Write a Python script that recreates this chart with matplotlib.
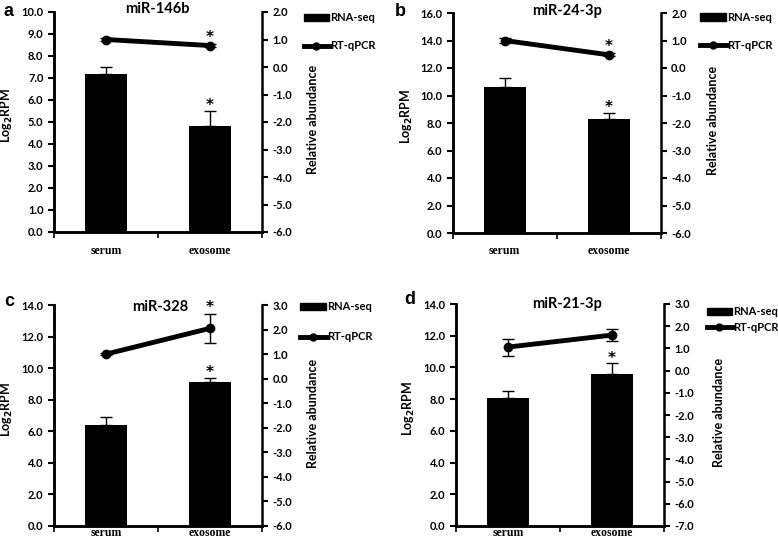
import matplotlib
matplotlib.use("Agg")
import matplotlib.pyplot as plt
from matplotlib.ticker import FormatStrFormatter, FixedLocator
from matplotlib.lines import Line2D
from matplotlib.patches import Patch

categories = ["serum", "exosome"]
panel_letters = ["a", "b", "c", "d"]
titles = ["miR-146b", "miR-24-3p", "miR-328", "miR-21-3p"]

rnaseq_vals = [[7.2, 4.8], [10.6, 8.3], [6.4, 9.1], [8.1, 9.6]]
rnaseq_err = [[0.3, 0.7], [0.65, 0.45], [0.5, 0.3], [0.4, 0.65]]
qpcr_vals = [[1.0, 0.78], [1.0, 0.48], [1.0, 2.05], [1.06, 1.6]]
qpcr_err = [[0.05, 0.06], [0.1, 0.05], [0.05, 0.58], [0.38, 0.27]]
bar_star = [[False, True], [False, True], [False, True], [False, True]]
line_star = [[False, True], [False, True], [False, True], [False, False]]

left_lims = [(0, 10), (0, 16), (0, 14), (0, 14)]
left_steps = [1, 2, 2, 2]
right_lims = [(-6, 2), (-6, 2), (-6, 3), (-7, 3)]

# layout (figure fractions)
boxes = [
    (54/778, 1-232/545, 208/778, 220/545),
    (452.7/778, 1-233/545, 208/778, 220/545),
    (54/778, 1-526/545, 208/778, 221/545),
    (456/778, 1-526/545, 208/778, 222/545),
]
letter_pos = [(4, 12), (395, 11), (4, 301), (404, 300)]
title_pos = [(0.495, 1.014), (0.55, 1.01), (0.51, 0.99), (0.534, 1.0)]
legend_pos = [(1.20, 1.0), (1.19, 1.005), (1.185, 1.018), (1.205, 0.99)]
legend_spacing = [1.55, 1.55, 1.75, 0.45]
llabel_x = [-0.1875, -0.181, -0.1875, -0.1875]
rlabel_x = [1.216, 1.223, 1.216, 1.236]
xlabel_pad = [9, 9, 1, 1]

SANS = "Lato"
SERIF = "Liberation Serif"

fig = plt.figure(figsize=(7.78, 5.45), dpi=100)

for i in range(4):
    ax = fig.add_axes(boxes[i])
    ax2 = ax.twinx()
    x = [0, 1]
    ax.bar(x, rnaseq_vals[i], width=0.4, color="black", zorder=2)
    ax.errorbar(x, rnaseq_vals[i], yerr=[[0, 0], rnaseq_err[i]], fmt="none",
                ecolor="black", elinewidth=1.0, capsize=4.5, capthick=1.0, zorder=3)
    ax2.errorbar(x, qpcr_vals[i], yerr=qpcr_err[i], fmt="none", ecolor="black",
                 elinewidth=1.0, capsize=4.5, capthick=1.0, zorder=3)
    ax2.plot(x, qpcr_vals[i], color="black", lw=3.5, marker="o", ms=6, zorder=4)

    for j in range(2):
        if bar_star[i][j]:
            ax.annotate("*", (x[j], rnaseq_vals[i][j] + rnaseq_err[i][j]),
                        xytext=(0, 0.5), textcoords="offset points", ha="center",
                        va="baseline", fontsize=11, fontweight="bold",
                        family="DejaVu Sans")
        if line_star[i][j]:
            ax2.annotate("*", (x[j], qpcr_vals[i][j] + qpcr_err[i][j]),
                         xytext=(0, 1.5), textcoords="offset points", ha="center",
                         va="baseline", fontsize=11, fontweight="bold",
                         family="DejaVu Sans")

    ax.set_xlim(-0.5, 1.5)
    ax.set_ylim(*left_lims[i])
    ax2.set_ylim(*right_lims[i])
    lo, hi = left_lims[i]
    ax.set_yticks([lo + k * left_steps[i] for k in range(int((hi - lo) / left_steps[i]) + 1)])
    rlo, rhi = right_lims[i]
    ax2.set_yticks(list(range(rlo, rhi + 1)))
    ax.yaxis.set_major_formatter(FormatStrFormatter("%.1f"))
    ax2.yaxis.set_major_formatter(FormatStrFormatter("%.1f"))

    ax.set_xticks(x)
    ax.set_xticklabels(categories, family=SERIF, fontweight="bold", fontsize=8.5)
    ax.xaxis.set_minor_locator(FixedLocator([-0.5, 0.5, 1.5]))
    ax.tick_params(axis="x", which="major", length=0, pad=xlabel_pad[i])
    ax.tick_params(axis="x", which="minor", length=4, width=1.2, direction="out")
    ax.tick_params(axis="y", length=4.5, width=1.5, direction="out", pad=3)
    ax2.tick_params(axis="y", length=4.5, width=1.5, direction="out", pad=3)
    for lab in ax.get_yticklabels() + ax2.get_yticklabels():
        lab.set_fontfamily(SANS)
        lab.set_fontweight("bold")
        lab.set_fontsize(8)

    for a_ in (ax, ax2):
        a_.spines["top"].set_visible(False)
        for s in ("left", "right", "bottom"):
            a_.spines[s].set_linewidth(1.8)
    ax.spines["right"].set_visible(False)

    ax.set_ylabel("Log$_\\mathbf{2}$RPM", family=SANS, fontweight="bold", fontsize=9)
    ax.yaxis.set_label_coords(llabel_x[i], 0.53)
    ax2.set_ylabel("Relative abundance", family=SANS, fontweight="bold", fontsize=9)
    ax2.yaxis.set_label_coords(rlabel_x[i], 0.51)

    ax.text(title_pos[i][0], title_pos[i][1], titles[i], transform=ax.transAxes,
            ha="center", va="center", family=SANS, fontweight="bold", fontsize=10.5)

    handles = [Patch(facecolor="black", edgecolor="black"),
               Line2D([0], [0], color="black", lw=3.5, marker="o", ms=5)]
    ax2.legend(handles, ["RNA-seq", "RT-qPCR"], loc="upper left",
               bbox_to_anchor=legend_pos[i], frameon=False, handlelength=2.3,
               handleheight=0.6, handletextpad=0.1, labelspacing=legend_spacing[i],
               borderaxespad=0, borderpad=0,
               prop={"family": SANS, "weight": "bold", "size": 8})

    fig.text(letter_pos[i][0] / 778, 1 - letter_pos[i][1] / 545, panel_letters[i],
             ha="left", va="center", family="Liberation Sans", fontweight="bold",
             fontsize=13)

fig.savefig("out.png", dpi=100)
